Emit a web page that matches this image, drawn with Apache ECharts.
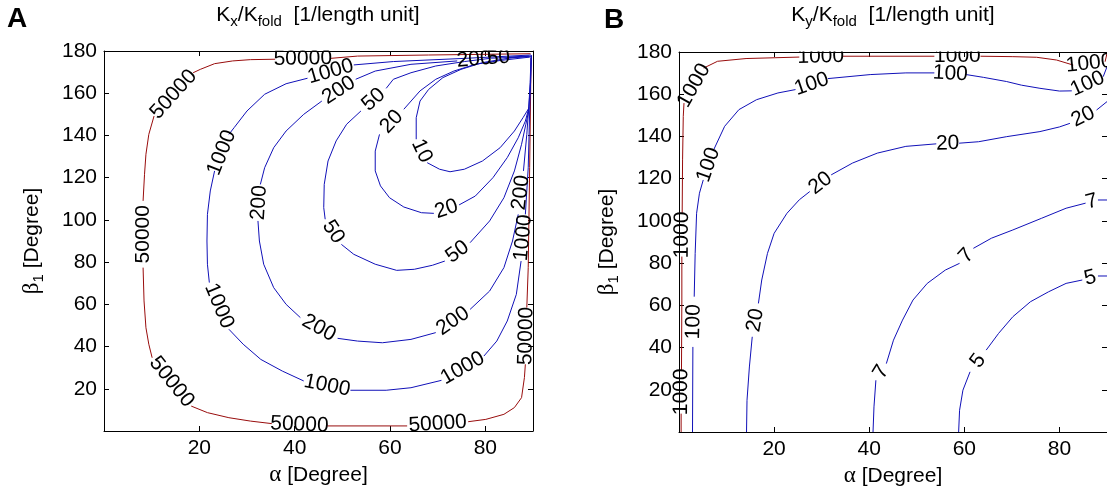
<!DOCTYPE html>
<html><head><meta charset="utf-8">
<script src="https://cdn.jsdelivr.net/npm/echarts@6/dist/echarts.min.js"></script>
<style>html,body{margin:0;padding:0;background:#fff}#c{width:1107px;height:496px}</style>
</head><body><div id="c"></div>
<script>
// ---------- axes ----------
const xMin = 0, xMax = 90, xStep = 20;
const yMin = 0, yMax = 180, yStep = 20;
const xTickLabels = [20, 40, 60, 80];
const yTickLabels = [20, 40, 60, 80, 100, 120, 140, 160, 180];

// ---------- Panel A : Kx/Kfold contours ([alpha, beta1]; null = gap where the label sits) ----------
const A_levels = [50000, 1000, 200, 50, 20, 10];
const A_c50000 = [[89.5,178.7],[68.1,178.1],[53.2,177.6],[47.5,176.5],null,[35.9,176.1],[30.7,175.9],[27.0,175.3],[23.2,174.0],[20.2,171.3],[18.7,169.7],null,[10.5,149.2],[9.4,140.5],[8.8,131.1],[8.5,121.6],[8.2,109.0],null,[8.2,77.4],[8.4,61.6],[8.8,48.9],[9.4,41.1],[10.1,34.7],null,[18.3,11.8],[21.7,8.7],[26.2,6.3],[30.7,4.7],[35.2,3.5],null,[46.8,2.4],[63.6,2.4],null,[76.4,4.4],[80.1,5.5],[83.9,7.9],[86.1,11.1],[87.6,15.8],[88.2,25.3],[88.4,31.6],null,[88.7,58.4],[89.0,77.4],[89.1,93.2],[89.3,124.7],[89.6,176.8]];
const A_c1000 = [[89.6,178.1],[75.6,176.5],[60.7,175.0],[52.4,173.4],null,[42.7,167.1],[38.2,164.5],[33.7,159.5],[30.0,151.6],[27.3,143.7],[26.2,140.5],null,[23.2,123.2],[22.3,113.7],[21.7,102.6],[21.6,90.0],[21.7,79.0],[22.1,70.3],null,[26.2,48.2],[29.2,41.1],[32.9,33.9],[37.4,28.4],[41.9,23.7],null,[51.7,19.3],[59.2,19.3],[64.4,20.5],[70.8,24.0],null,[79.7,35.5],[82.4,42.6],[84.6,52.1],[86.5,64.7],[87.5,80.5],null,[88.4,102.6],[89.0,124.7],[89.3,151.6],[89.6,176.8]];
const A_c200 = [[89.6,177.3],[81.2,176.6],null,[74.1,175.3],[64.4,173.7],[56.9,170.5],[52.8,166.6],null,[45.7,156.3],[41.9,150.0],[38.2,142.1],[35.6,134.2],[33.7,124.7],[32.8,116.8],null,[32.3,99.5],[32.6,90.0],[33.5,79.0],[35.6,67.9],[38.2,60.0],[41.2,53.7],null,[49.0,43.9],[53.2,42.6],[58.4,41.8],[64.4,43.4],[69.6,46.6],null,[76.8,57.6],[80.9,66.3],[83.9,77.4],[85.7,90.0],[86.9,102.6],null,[88.0,123.2],[88.7,140.5],[89.1,153.2]];
const A_c50 = [[89.1,177.6],[84.6,177.1],null,[80.9,176.5],[75.6,175.0],[69.6,172.9],[64.4,169.7],[60.7,166.6],[59.2,162.3],null,[53.9,151.6],[50.9,145.3],[48.7,137.4],[47.0,127.9],[46.2,116.8],[46.1,105.8],[46.4,100.3],null,[49.8,88.4],[52.4,83.7],[56.9,79.0],[61.4,76.1],[65.1,76.6],[68.9,78.5],[71.5,80.5],null,[76.8,89.2],[80.9,99.5],[83.9,110.5],[86.1,123.2],[87.6,135.8],[88.5,145.3],[89.1,151.6]];
const A_c20 = [[89.3,177.1],[83.1,175.5],[77.9,173.7],[73.4,170.5],[69.6,166.6],[66.3,161.1],[62.9,152.4],null,[57.8,140.5],[56.9,132.6],[56.9,123.2],[58.0,116.1],[59.9,110.5],[62.9,106.1],[66.6,103.4],[69.2,103.1],null,[74.5,107.1],[77.9,111.3],[81.6,120.0],[84.6,129.5],[86.9,138.9],[88.4,146.8],[89.1,152.8],[89.4,165.0],[89.6,178.0]];
const A_c10 = [[89.3,177.6],[84.6,176.5],[79.4,174.5],[74.9,171.3],[71.1,167.4],[68.1,161.8],[66.3,156.3],[65.5,148.4],[65.5,138.2],null,[67.8,127.1],[70.4,124.0],[72.6,122.8],[75.6,124.0],[79.4,127.9],[83.1,134.2],[86.1,142.1],[87.9,148.4],[89.1,152.8],[89.5,165.0],[89.7,178.0]];

// ---------- Panel B : Ky/Kfold contours ----------
const B_levels = [1000, 100, 20, 7, 5];
const B_c1000 = [[0.45,0],[0.45,8.7],null,[0.52,29.3],[0.6,62.5],[0.6,83.1],null,[0.67,103.6],[0.75,128.9],[0.9,149.5],[1.05,155.8],null,[5.2,172.4],[8.1,175.6],[14.1,176.9],[25.3,177.6],null,[34.3,178.0],[53.7,178.0],null,[63.4,178.0],[70.2,177.8],[75.2,177.5],[79.4,176.2],[82.9,173.8],null,[89.6,175.4],[90,179.4]];
const B_c100 = [[2.84,0],[2.92,40.3],null,[3.2,64.1],[3.4,84.6],[3.7,103.6],[4.3,113.1],[5.1,119.4],null,[7.3,133.7],[9.6,144.8],[12.6,152.7],[16.3,157.4],[20.8,160.6],[24.5,162.2],null,[31.3,167.4],[40.2,169.3],[47.7,170.1],[53.7,170.1],null,[60.4,169.3],[64.0,168.0],[68.9,166.0],[72.0,164.3],[75.9,162.8],[80.0,161.5],[82.6,161.6],null,[89.2,168.3],[90,173.0]];
const B_c20 = [[14.2,0],[14.3,15.0],[14.8,30.8],[15.4,45.1],null,[16.7,60.9],[17.4,72.0],[18.6,84.6],[20.0,94.1],[22.7,103.6],[25.3,110.0],[27.5,113.9],null,[32.0,121.8],[36.5,127.4],[41.7,132.1],[47.7,135.3],[54.1,136.5],null,[58.9,136.8],[63.0,137.5],[68.9,139.9],[75.9,142.3],[80.0,144.5],[82.2,146.2],null,[87.8,152.5],[90,156.5]];
const B_c7 = [[40.8,0],[41.0,11.9],[41.4,24.5],null,[43.6,32.4],[45.1,43.5],[47.0,53.0],[49.2,62.5],[52.2,70.4],[56.0,76.7],[59.0,79.9],null,[61.9,87.0],[65.7,91.8],[70.2,95.7],[76.2,101.2],[81.4,106.0],[85.5,108.4],null,[88.1,109.9],[90,109.9]];
const B_c5 = [[58.8,0],[59.0,10.3],[59.7,19.8],[61.2,28.5],null,[64.6,38.8],[67.2,46.7],[70.2,54.6],[73.9,61.7],[77.7,66.4],[81.4,70.4],[84.8,72.0],null,[88.1,73.9],[90,73.9]];

// ---------- styling ----------
const FONT = '"Liberation Sans", Arial, Helvetica, sans-serif';
const GREEK = '"Liberation Serif", "Times New Roman", serif';
const FS = 21;
const BLUE = '#1010b8', RED = '#980c0c';
const panels = [
  {grid:{left:104, top:51, width:429, height:380}, contours:[A_c50000,A_c1000,A_c200,A_c50,A_c20,A_c10], levels:A_levels, red:50000},
  {grid:{left:679, top:52, width:428, height:380}, contours:[B_c1000,B_c100,B_c20,B_c7,B_c5], levels:B_levels, red:1000}
];

const chart = echarts.init(document.getElementById('c'));
const xAxes = [], yAxes = [], series = [];
const tickStyle = {show:true, inside:true, length:5, lineStyle:{color:'#000', width:1}};
const lineAx = {show:true, onZero:false, lineStyle:{color:'#000', width:1}};
const labStyle = {color:'#000', fontSize:FS, fontFamily:FONT, margin:7};
panels.forEach((p, gi) => {
  ['bottom','top'].forEach((pos, k) => xAxes.push({
    type:'value', gridIndex:gi, position:pos, min:xMin, max:xMax, interval:xStep,
    axisLine:lineAx, axisTick:tickStyle, splitLine:{show:false},
    axisLabel: k===0 ? Object.assign({}, labStyle, {showMaxLabel:false, formatter:v => xTickLabels.includes(v) ? String(v) : ''}) : {show:false},
    name: k===0 ? '{g|α}{n| [Degree]}' : '', nameLocation:'middle', nameGap:31,
    nameTextStyle:{color:'#000', rich:{g:{fontSize:23, fontFamily:GREEK, color:'#000'}, n:{fontSize:FS, fontFamily:FONT, color:'#000'}}}
  }));
  ['left','right'].forEach((pos, k) => yAxes.push({
    type:'value', gridIndex:gi, position:pos, min:yMin, max:yMax, interval:yStep,
    axisLine:lineAx, axisTick:tickStyle, splitLine:{show:false},
    axisLabel: k===0 ? Object.assign({}, labStyle, {formatter:v => yTickLabels.includes(v) ? String(v) : ''}) : {show:false},
    name: k===0 ? '{b|β}{s|1}{g| [Degree]}' : '', nameLocation:'middle', nameGap:58,
    nameTextStyle:{color:'#000', rich:{
      b:{fontSize:23, fontFamily:GREEK, color:'#000', verticalAlign:'top'},
      g:{fontSize:FS, fontFamily:FONT, color:'#000', verticalAlign:'top', padding:[2,0,0,0]},
      s:{fontSize:15, fontFamily:FONT, color:'#000', verticalAlign:'top', padding:[11,0,0,0]}}}
  }));
  p.contours.forEach((c, ci) => series.push({
    type:'line', xAxisIndex:gi*2, yAxisIndex:gi*2, silent:true, animation:false,
    showSymbol:false, symbol:'none', connectNulls:false, clip:true,
    lineStyle:{color: p.levels[ci] === p.red ? RED : BLUE, width:1},
    data: c.map(pt => pt ? pt : ['-','-'])
  }));
});

const titleRich = {
  m:{fontSize:21, fontFamily:FONT, color:'#000', verticalAlign:'top'},
  s:{fontSize:15, fontFamily:FONT, color:'#000', verticalAlign:'top', padding:[9,0,0,0]}
};
chart.setOption({
  animation:false,
  grid: panels.map(p => Object.assign({containLabel:false}, p.grid)),
  xAxis: xAxes, yAxis: yAxes, series: series,
  graphic: [
    {type:'text', x:318, y:5, style:{text:'{m|K}{s|x}{m|/K}{s|fold}{m|  [1/length unit]}', rich:titleRich, align:'center', verticalAlign:'top'}},
    {type:'text', x:893, y:5, style:{text:'{m|K}{s|y}{m|/K}{s|fold}{m|  [1/length unit]}', rich:titleRich, align:'center', verticalAlign:'top'}},
    {type:'text', x:7, y:5, style:{text:'A', font:'bold 28px ' + FONT, fill:'#000'}},
    {type:'text', x:604, y:6, style:{text:'B', font:'bold 28px ' + FONT, fill:'#000'}},
    // labels are clipped by the top of each axes box, as in the original
    {type:'rect', z:100, shape:{x:105, y:36, width:428, height:14.5}, style:{fill:'#fff'}},
    {type:'rect', z:100, shape:{x:680, y:36, width:427, height:15.5}, style:{fill:'#fff'}}
  ]
});

// contour labels placed in the gaps of each contour, rotated along the line
let sIdx = 0;
const labelSeries = [];
panels.forEach((p, gi) => {
  const items = [];
  p.contours.forEach((c, ci) => {
    for (let i = 1; i < c.length - 1; i++) {
      if (c[i] === null && c[i-1] && c[i+1]) {
        const a = c[i-1], b = c[i+1];
        const pa = chart.convertToPixel({seriesIndex:sIdx}, a);
        const pb = chart.convertToPixel({seriesIndex:sIdx}, b);
        let ang = Math.atan2(-(pb[1]-pa[1]), pb[0]-pa[0]) * 180 / Math.PI;
        if (ang > 90) ang -= 180;
        if (ang <= -90) ang += 180;
        items.push({value:[(a[0]+b[0])/2, (a[1]+b[1])/2], label:{formatter:String(p.levels[ci]), rotate:ang}});
      }
    }
    sIdx++;
  });
  labelSeries.push({
    type:'scatter', xAxisIndex:gi*2, yAxisIndex:gi*2, silent:true, animation:false,
    symbol:'rect', symbolSize:1, itemStyle:{color:'rgba(0,0,0,0)', opacity:1}, z:5,
    label:{show:true, position:'inside', color:'#000', opacity:1, fontSize:FS, fontFamily:FONT, textBorderWidth:0},
    data: items
  });
});
chart.setOption({series: series.concat(labelSeries)});
</script></body></html>
